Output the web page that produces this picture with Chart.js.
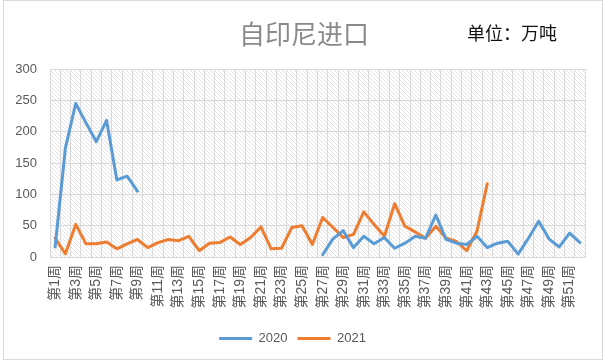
<!DOCTYPE html>
<html><head><meta charset="utf-8">
<script src="https://cdn.jsdelivr.net/npm/chart.js@4"></script>
<style>html,body{margin:0;padding:0;background:#fff;} #wrap{width:605px;height:360px;position:relative;}</style>
</head><body><div id="wrap"><canvas id="c"></canvas></div>
<script>
const weeks = ['第1周','第2周','第3周','第4周','第5周','第6周','第7周','第8周','第9周','第10周',
  '第11周','第12周','第13周','第14周','第15周','第16周','第17周','第18周','第19周','第20周',
  '第21周','第22周','第23周','第24周','第25周','第26周','第27周','第28周','第29周','第30周',
  '第31周','第32周','第33周','第34周','第35周','第36周','第37周','第38周','第39周','第40周',
  '第41周','第42周','第43周','第44周','第45周','第46周','第47周','第48周','第49周','第50周',
  '第51周','第52周'];
const values2020 = [16,174,245,214,184,218,123,129,105,
  null,null,null,null,null,null,null,null,null,null,null,null,null,null,null,null,null,
  3.5,29,42,15,33,21,31,14,22,33,30,67,28,22,20,33,15,22,25,4.5,30,57,29,16,38,23];
const values2021 = [30,5,52,21,21,24,13,21,28,15,23,28,26,33,10,22,23,32,20,31,48,13,14,47,50,20,
  63,47,31,36,72,52,33,85,49,40,30,49,30,25,10,41,117,
  null,null,null,null,null,null,null,null,null];
const yTicks = [0,50,100,150,200,250,300];
const seriesNames = ['2020','2021'];
const seriesColors = ['#5B9BD5','#ED7D31'];
const titleText = '自印尼进口';
const unitText = '单位：万吨';

const FONT = "'Liberation Sans', 'Noto Sans CJK SC', sans-serif";

function makeHatch(){
  const p=document.createElement('canvas'); p.width=4; p.height=4;
  const g=p.getContext('2d'); g.fillStyle='#ffffff'; g.fillRect(0,0,4,4);
  g.fillStyle='#e2e2e2'; for(let i=0;i<4;i++) g.fillRect(i,i,1,1);
  return p;
}

const deco = {
  id:'deco',
  beforeDraw(chart){
    const {ctx, chartArea:a} = chart;
    ctx.save();
    ctx.fillStyle='#fff'; ctx.fillRect(0,0,chart.width,chart.height);
    ctx.fillStyle = ctx.createPattern(makeHatch(),'repeat');
    ctx.fillRect(a.left,a.top,a.right-a.left,a.bottom-a.top);
    ctx.restore();
  },
  afterDraw(chart){
    const {ctx} = chart;
    ctx.save();
    ctx.textBaseline='middle';
    ctx.textAlign='center';
    ctx.fillStyle='#8a8a8a';
    ctx.font="26px 'Noto Sans CJK SC', sans-serif";
    ctx.fillText(titleText, 304, 34);
    ctx.textAlign='left';
    ctx.fillStyle='#111111';
    ctx.font="18px 'Noto Sans CJK SC', sans-serif";
    ctx.fillText(unitText, 467, 33);
    ctx.strokeStyle='#d9d9d9'; ctx.lineWidth=1;
    ctx.strokeRect(3.5,0.5,599,359);
    ctx.restore();
  }
};

new Chart(document.getElementById('c'), {
  type:'line',
  data:{
    labels: weeks,
    datasets:[
      {label:seriesNames[0], data:values2020, borderColor:seriesColors[0], backgroundColor:seriesColors[0]},
      {label:seriesNames[1], data:values2021, borderColor:seriesColors[1], backgroundColor:seriesColors[1]}
    ]
  },
  options:{
    responsive:true, maintainAspectRatio:false, animation:false,
    layout:{padding:{top:69,right:20,left:0,bottom:5}},
    elements:{
      line:{borderWidth:3, tension:0, borderCapStyle:'round', borderJoinStyle:'round'},
      point:{radius:0, hoverRadius:0}
    },
    spanGaps:false,
    scales:{
      x:{
        offset:true,
        grid:{offset:true, color:'#d9d9d9', lineWidth:1, drawTicks:false},
        border:{color:'#d9d9d9'},
        ticks:{
          autoSkip:false, maxRotation:90, minRotation:90, padding:8,
          color:'#595959', font:{size:14, family:FONT},
          callback:function(v,i){ return i%2===0 ? weeks[i] : ''; }
        },
        afterFit(s){ s.height = 65; }
      },
      y:{
        min:0, max:300,
        afterBuildTicks(s){ s.ticks = yTicks.map(v=>({value:v})); },
        grid:{color:'#d9d9d9', lineWidth:1, drawTicks:false},
        border:{display:false},
        ticks:{color:'#595959', font:{size:13, family:FONT}, padding:13},
        afterFit(s){ s.width = 50; }
      }
    },
    plugins:{
      title:{display:false},
      tooltip:{enabled:false},
      legend:{
        position:'bottom',
        labels:{
          color:'#595959', font:{size:13, family:FONT},
          boxWidth:33, boxHeight:3, padding:10,
          generateLabels(chart){
            return chart.data.datasets.map((d,i)=>({
              text:d.label, fillStyle:d.borderColor, strokeStyle:d.borderColor,
              lineWidth:0, hidden:false, datasetIndex:i, fontColor:'#595959'
            }));
          }
        }
      }
    }
  },
  plugins:[deco]
});
</script>
</body></html>
